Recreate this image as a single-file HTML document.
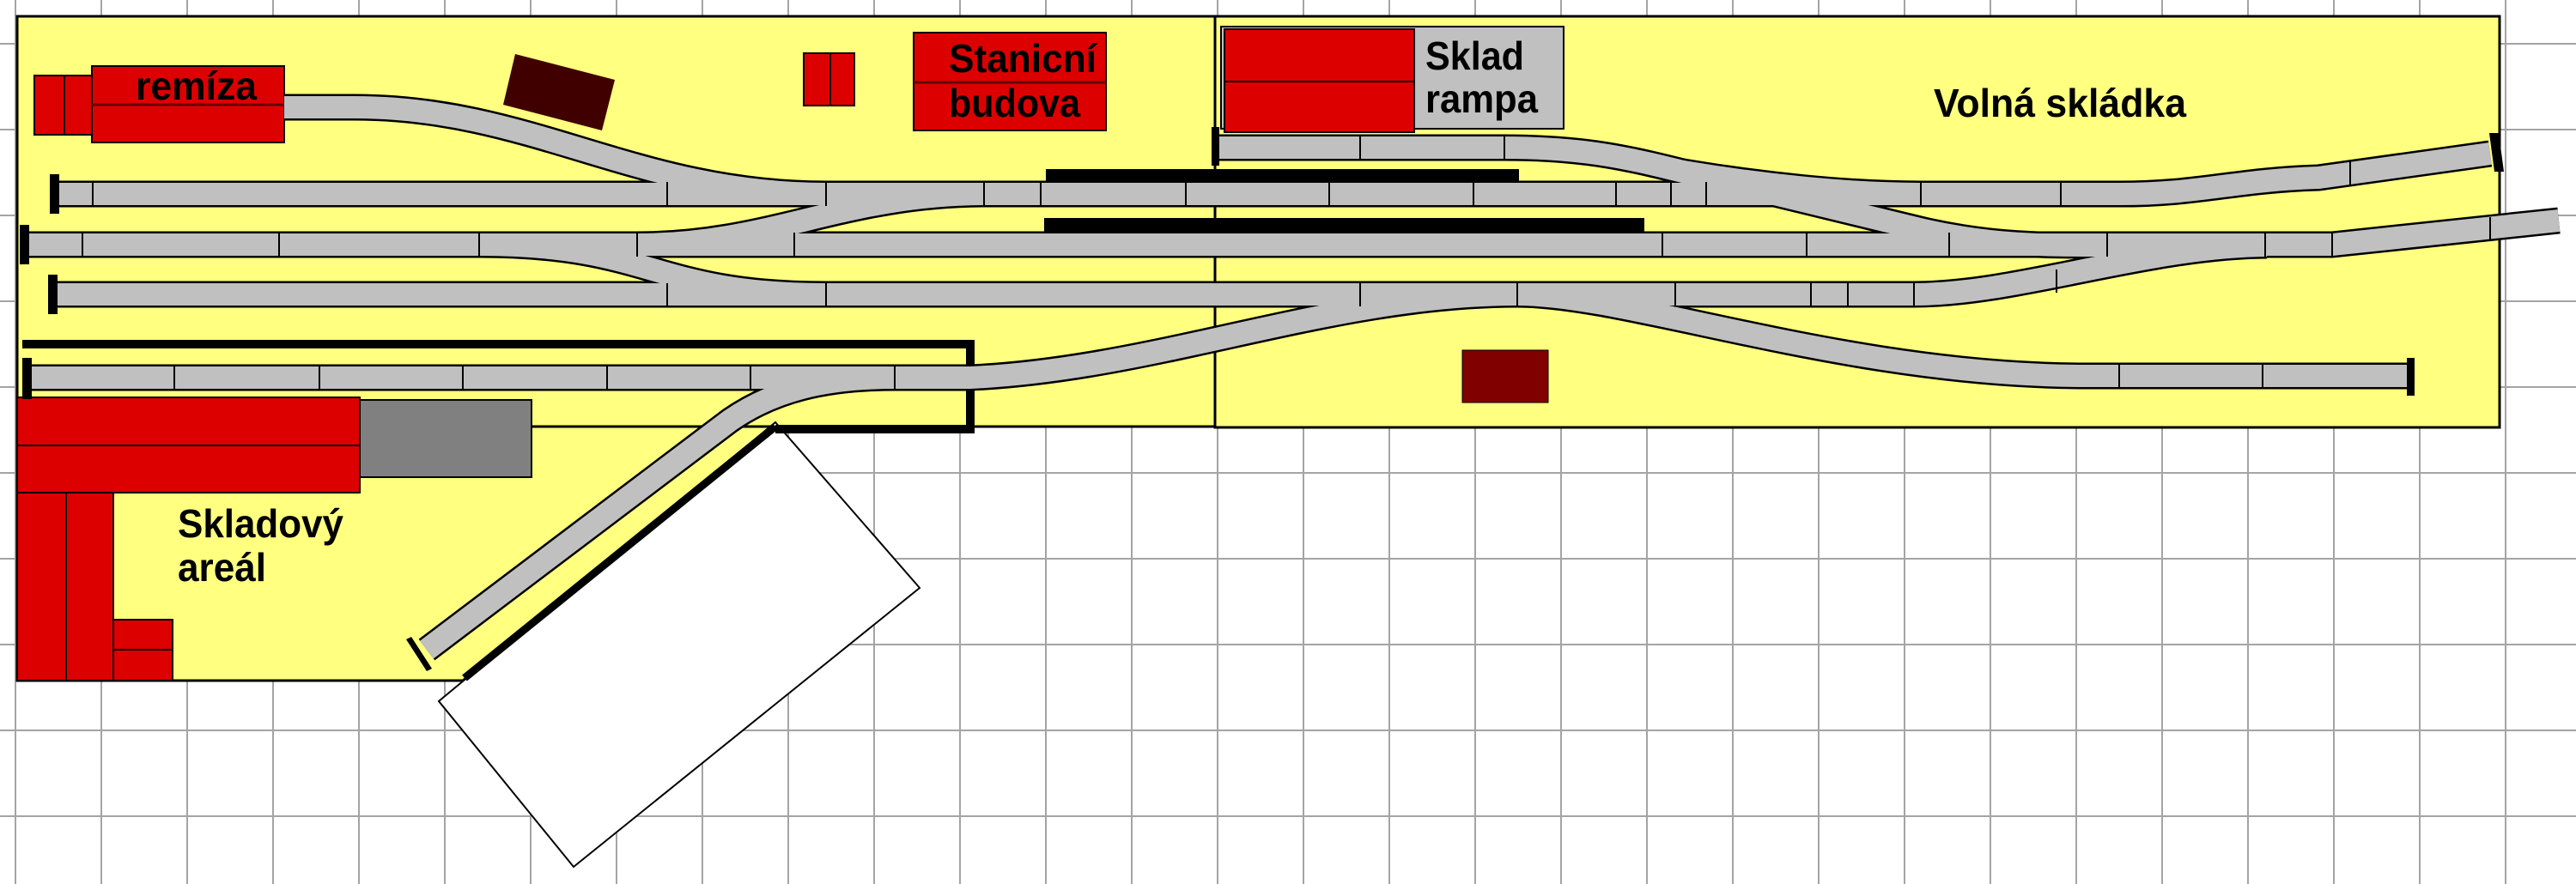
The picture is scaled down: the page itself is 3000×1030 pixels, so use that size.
<!DOCTYPE html>
<html><head><meta charset="utf-8"><style>
html,body{margin:0;padding:0;background:#fff;}
svg{display:block;}
text{font-family:"Liberation Sans",sans-serif;font-weight:bold;font-size:46px;fill:#000;}
</style></head><body>
<svg width="3000" height="1030" viewBox="0 0 3000 1030" xmlns="http://www.w3.org/2000/svg">
<rect width="3000" height="1030" fill="#fff"/>
<!-- grid -->
<g stroke="#a4a4a4" stroke-width="2">
<path d="M18,0V1030M118,0V1030M218,0V1030M318,0V1030M418,0V1030M518,0V1030M618,0V1030M718,0V1030M818,0V1030M918,0V1030M1018,0V1030M1118,0V1030M1218,0V1030M1318,0V1030M1418,0V1030M1518,0V1030M1618,0V1030M1718,0V1030M1818,0V1030M1918,0V1030M2018,0V1030M2118,0V1030M2218,0V1030M2318,0V1030M2418,0V1030M2518,0V1030M2618,0V1030M2718,0V1030M2818,0V1030M2918,0V1030"/>
<path d="M0,51H3000M0,151H3000M0,251H3000M0,351H3000M0,451H3000M0,551H3000M0,651H3000M0,751H3000M0,851H3000M0,951H3000"/>
</g>
<!-- boards -->
<polygon points="20,497 903,497 539,793 20,793" fill="#ffff80" stroke="#000" stroke-width="3"/>
<rect x="20" y="19" width="1395" height="478" fill="#ffff80" stroke="#000" stroke-width="3"/>
<rect x="1415" y="19" width="1496" height="479" fill="#ffff80" stroke="#000" stroke-width="3"/>
<!-- white rotated rect -->
<polygon points="903,492 1071,685 668,1010 511,817" fill="#fff" stroke="#000" stroke-width="2"/>
<line x1="903" y1="497" x2="541" y2="790" stroke="#000" stroke-width="9"/>

<!-- buildings -->
<rect x="40" y="88" width="70" height="69" fill="#dd0000" stroke="#000" stroke-width="2"/>
<line x1="75" y1="88" x2="75" y2="157" stroke="#000" stroke-width="2"/>
<rect x="107" y="77" width="224" height="89" fill="#dd0000" stroke="#000" stroke-width="2"/>
<line x1="107" y1="122" x2="331" y2="122" stroke="#600" stroke-width="3"/>
<text x="158" y="116" textLength="141" lengthAdjust="spacingAndGlyphs">remíza</text>
<polygon points="600,63 716,93 701,152 586,122" fill="#400000"/>
<rect x="936" y="62" width="59" height="61" fill="#dd0000" stroke="#000" stroke-width="2"/>
<line x1="967" y1="62" x2="967" y2="123" stroke="#000" stroke-width="2"/>
<rect x="1064" y="38" width="224" height="114" fill="#dd0000" stroke="#000" stroke-width="2"/>
<line x1="1064" y1="96" x2="1288" y2="96" stroke="#600" stroke-width="3"/>
<text x="1105" y="84" textLength="172" lengthAdjust="spacingAndGlyphs">Stanicní</text>
<text x="1105" y="136" textLength="153" lengthAdjust="spacingAndGlyphs">budova</text>
<rect x="1422" y="31" width="399" height="119" fill="#c0c0c0" stroke="#000" stroke-width="2"/>
<rect x="1426" y="34" width="221" height="120" fill="#dd0000" stroke="#000" stroke-width="2"/>
<line x1="1426" y1="95" x2="1647" y2="95" stroke="#000" stroke-width="2"/>
<text x="1660" y="81" textLength="115" lengthAdjust="spacingAndGlyphs">Sklad</text>
<text x="1660" y="131" textLength="131" lengthAdjust="spacingAndGlyphs">rampa</text>
<text x="2252" y="136" textLength="294" lengthAdjust="spacingAndGlyphs">Volná skládka</text>
<rect x="1703" y="408" width="100" height="61" fill="#800000" stroke="#000" stroke-width="1"/>
<!-- Skladovy areal -->
<rect x="20" y="463" width="399" height="111" fill="#dd0000" stroke="#000" stroke-width="2"/>
<line x1="20" y1="519" x2="419" y2="519" stroke="#000" stroke-width="2"/>
<rect x="419" y="466" width="200" height="90" fill="#808080" stroke="#000" stroke-width="2"/>
<line x1="619" y1="497" x2="903" y2="497" stroke="#000" stroke-width="2"/>
<rect x="20" y="574" width="57" height="219" fill="#dd0000" stroke="#000" stroke-width="2"/>
<rect x="77" y="574" width="55" height="219" fill="#dd0000" stroke="#000" stroke-width="2"/>
<rect x="132" y="722" width="69" height="71" fill="#dd0000" stroke="#000" stroke-width="2"/>
<line x1="132" y1="757" x2="201" y2="757" stroke="#000" stroke-width="2"/>
<text x="207" y="626" textLength="193" lengthAdjust="spacingAndGlyphs">Skladový</text>
<text x="207" y="677" textLength="103" lengthAdjust="spacingAndGlyphs">areál</text>

<!-- platforms -->
<rect x="1218" y="197" width="551" height="15" fill="#000"/>
<rect x="1216" y="254" width="699" height="17" fill="#000"/>
<!-- wall around lower siding -->
<path d="M26,401 H1130 V500 H903" fill="none" stroke="#000" stroke-width="10"/>

<!-- tracks -->
<g fill="none" stroke-linecap="butt">
<g stroke="#000" stroke-width="31">
<path d="M63,226 H2461 C2560,227 2600,210 2700,207 L2900,179"/>
<path d="M30,285 H2716 L2980,257"/>
<path d="M63,343 H2229 C2350,343 2500,287 2640,286"/>
<path d="M331,125 H413 C620,125 740,226 962,226"/>
<path d="M742,285 C900,285 980,226 1150,226"/>
<path d="M558,285 C760,285 760,343 962,343"/>
<path d="M1416,172 H1751 C1850,172 1900,185 1980,205 L2240,268 C2320,286 2380,286 2453,286"/>
<path d="M1960,200 C2050,215 2150,226 2236,226"/>
<path d="M31,440 H1130 C1350,430 1550,343 1767,343 C1900,343 2150,438 2431,438 L2808,438"/>
<path d="M1042,440 C960,440 900,455 850,490 L497,757"/>
</g>
<g stroke="#c0c0c0" stroke-width="26">
<path d="M63,226 H2461 C2560,227 2600,210 2700,207 L2900,179"/>
<path d="M30,285 H2716 L2980,257"/>
<path d="M63,343 H2229 C2350,343 2500,287 2640,286"/>
<path d="M331,125 H413 C620,125 740,226 962,226"/>
<path d="M742,285 C900,285 980,226 1150,226"/>
<path d="M558,285 C760,285 760,343 962,343"/>
<path d="M1416,172 H1751 C1850,172 1900,185 1980,205 L2240,268 C2320,286 2380,286 2453,286"/>
<path d="M1960,200 C2050,215 2150,226 2236,226"/>
<path d="M31,440 H1130 C1350,430 1550,343 1767,343 C1900,343 2150,438 2431,438 L2808,438"/>
<path d="M1042,440 C960,440 900,455 850,490 L497,757"/>
</g>
</g>
<!-- ties/segment lines -->
<g stroke="#000" stroke-width="2">
<path d="M108,212V240M777,212V240M962,212V240M1146,212V240M1212,212V240M1381,212V240M1548,212V240M1716,212V240M1882,212V240M1946,212V240M1987,212V240M2237,212V240M2400,212V240"/>
<path d="M96,271V299M325,271V299M558,271V299M742,271V299M925,271V299M1936,271V299M2104,271V299M2270,271V299M2454,271V299M2638,271V299M2716,271V299M2900,253V280"/>
<path d="M777,330V357M962,330V357M1584,330V357M1767,330V357M1951,330V357M2109,330V357M2152,330V357M2229,330V357M2395,314V341"/>
<path d="M203,426V454M372,426V454M539,426V454M707,426V454M874,426V454M1042,426V454M2468,424V452M2635,424V452"/>
<path d="M1584,158V186M1752,158V186M2737,188V215"/>
</g>
<!-- bumpers -->
<g fill="#000">
<rect x="58" y="203" width="11" height="46"/>
<rect x="23" y="262" width="11" height="46"/>
<rect x="56" y="320" width="11" height="46"/>
<rect x="26" y="417" width="11" height="48"/>
<rect x="1411" y="148" width="9" height="45"/>
<polygon points="2899,155 2910,155 2916,200 2905,200"/>
<rect x="2803" y="417" width="9" height="44"/>
<polygon points="473,745 479,742 503,779 497,782"/>
</g>
</svg>
</body></html>
